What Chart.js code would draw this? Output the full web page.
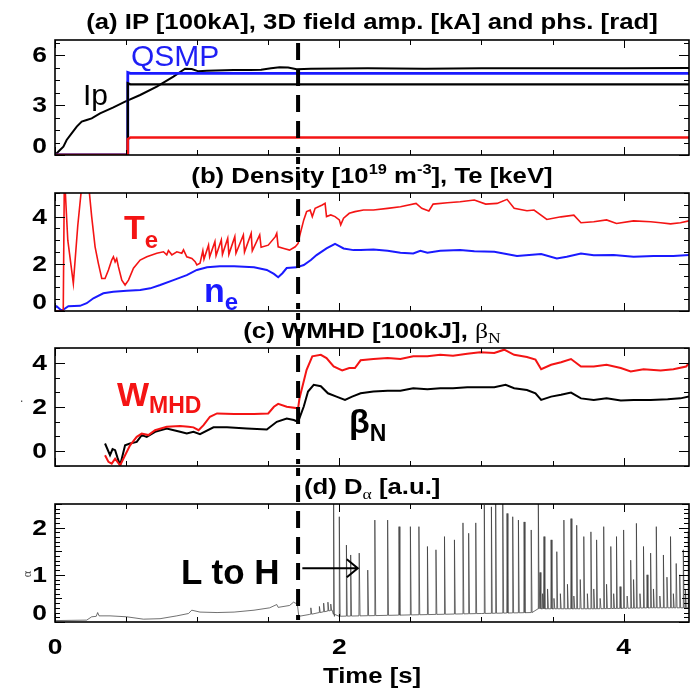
<!DOCTYPE html>
<html lang="en">
<head>
<meta charset="UTF-8">
<title>Discharge overview</title>
<script src="https://cdn.jsdelivr.net/npm/chart.js"></script>
<style>
  body { margin: 0; background: #fff; }
  #page { position: relative; width: 691px; height: 690px; overflow: hidden;
          font-family: "Liberation Sans", Arial, sans-serif; }
  canvas { position: absolute; left: 0; }
  .title { position: absolute; left: 55px; width: 634px; text-align: center; white-space: nowrap;
           font-weight: bold; font-size: 22px; line-height: 1; transform: scaleX(1.17); transform-origin: 317px 0; }
  .ann { position: absolute; white-space: nowrap; line-height: 1; }
  .sup { font-size: 14px; position: relative; top: -9px; }
  .serif { font-family: "Liberation Serif", "DejaVu Serif", serif; font-weight: normal; }
</style>
</head>
<body>
<div id="page">
  <canvas id="cA" width="691" height="157" style="top:0"></canvas>
  <canvas id="cB" width="691" height="156" style="top:157px"></canvas>
  <canvas id="cC" width="691" height="155" style="top:313px"></canvas>
  <canvas id="cD" width="691" height="222" style="top:468px"></canvas>

  <div class="title" style="top:11px">(a) IP [100kA], 3D field amp. [kA] and phs. [rad]</div>
  <div class="title" style="top:165px">(b) Density [10<span class="sup">19</span> m<span class="sup">-3</span>], Te [keV]</div>
  <div class="title" style="top:320px">(c) WMHD [100kJ], <span class="serif">β<span style="font-size:15px;position:relative;top:5px">N</span></span></div>
  <div class="title" style="top:476px;left:304px;width:auto;text-align:left;transform-origin:0 0">(d) D<span class="serif" style="font-size:15px;position:relative;top:5px">α</span> [a.u.]</div>

  <div class="ann" style="left:131px;top:41px;font-size:30px;color:#1f1ff5">QSMP</div>
  <div class="ann" style="left:83px;top:80px;font-size:30px;color:#000">Ip</div>
  <div class="ann" style="left:124px;top:210px;font-size:34px;font-weight:bold;color:#f41414">T<span style="font-size:24px;position:relative;top:9px">e</span></div>
  <div class="ann" style="left:204px;top:273px;font-size:34px;font-weight:bold;color:#1a1aff">n<span style="font-size:24px;position:relative;top:8px">e</span></div>
  <div class="ann" style="left:117px;top:377px;font-size:34px;font-weight:bold;color:#f41414">W<span style="font-size:23px;position:relative;top:7px">MHD</span></div>
  <div class="ann" style="left:349px;top:404px;font-size:34px;font-weight:bold;color:#000">β<span style="font-size:23px;position:relative;top:8px">N</span></div>
  <div class="ann" style="left:181px;top:554px;font-size:35px;font-weight:bold;color:#000">L to H</div>
  <div class="ann serif" style="left:24px;top:568px;font-size:12px;color:#444;transform:rotate(-90deg)">α</div>
  <div class="ann" style="left:20px;top:392px;font-size:12px;color:#444">.</div>
</div>

<script>
// time axis and L-H transition
const tMax = 4.46;
const lhTime = 1.71;
const lhArrowT = [1.74, 2.13];
const lhArrowY = 1.14;

// (a) plasma current and 3D field coil signals
const ipTime = [0, 0.035, 0.059, 0.082, 0.117, 0.153, 0.188, 0.223, 0.258, 0.317, 0.411, 0.493, 0.599, 0.716, 0.833, 0.915, 0.962, 1.009, 1.068, 1.256, 1.373, 1.45, 1.52, 1.58, 1.64, 1.7, 1.8, 2.2, 2.6, 3.0, 3.5, 4.0, 4.46];
const ipVal  = [0, 0.3, 0.5, 0.9, 1.3, 1.7, 2.0, 2.1, 2.2, 2.5, 2.86, 3.2, 3.6, 4.1, 4.7, 5.18, 5.16, 5.02, 5.06, 5.1, 5.1, 5.12, 5.2, 5.27, 5.25, 5.15, 5.18, 5.2, 5.18, 5.2, 5.2, 5.2, 5.22];
const coilTime = [0, 0.508, 0.512, 0.53, 4.46];
const qsmpVal  = [0, 0, 4.95, 4.9, 4.9];
const ampVal   = [0, 0, 4.3, 4.24, 4.24];
const phsVal   = [0, 0, 0.95, 1.05, 1.05];

// (b) electron temperature and density
const teTime = [0, 0.058, 0.066, 0.09, 0.129, 0.16, 0.188, 0.215, 0.242, 0.258, 0.282, 0.305, 0.329, 0.352, 0.376, 0.399, 0.411, 0.423, 0.434, 0.446, 0.47, 0.493, 0.517, 0.552, 0.599, 0.646, 0.716, 0.763, 0.786, 0.798, 0.822, 0.857, 0.892, 0.904, 0.927, 0.963, 0.986, 0.998, 1.02, 1.04, 1.048, 1.08, 1.088, 1.125, 1.133, 1.17, 1.178, 1.215, 1.223, 1.265, 1.273, 1.325, 1.333, 1.38, 1.388, 1.44, 1.45, 1.5, 1.55, 1.56, 1.57, 1.61, 1.65, 1.69, 1.71, 1.72, 1.75, 1.77, 1.795, 1.81, 1.83, 1.88, 1.9, 1.91, 1.94, 1.97, 2.0, 2.01, 2.03, 2.07, 2.11, 2.17, 2.24, 2.34, 2.43, 2.54, 2.58, 2.63, 2.66, 2.76, 2.85, 2.95, 3.03, 3.11, 3.18, 3.23, 3.32, 3.37, 3.46, 3.56, 3.65, 3.7, 3.79, 3.88, 3.95, 4.07, 4.19, 4.26, 4.33, 4.4, 4.46];
const teVal  = [0, 0, 5.8, 3.0, 1.17, 3.6, 5.3, 6.0, 5.0, 4.0, 2.72, 2.02, 1.38, 1.38, 1.74, 2.16, 2.3, 2.08, 2.22, 1.88, 1.31, 1.1, 1.31, 1.81, 2.16, 2.3, 2.45, 2.51, 2.38, 2.56, 2.38, 2.51, 2.45, 2.59, 2.3, 2.23, 2.09, 1.95, 2.02, 2.55, 2.2, 2.79, 2.3, 2.94, 2.35, 3.01, 2.4, 3.08, 2.4, 3.15, 2.45, 3.22, 2.5, 3.29, 2.55, 3.22, 2.7, 2.79, 3.15, 3.29, 2.72, 2.65, 2.58, 2.72, 2.86, 3.15, 3.86, 4.21, 4.28, 4.0, 4.35, 4.49, 4.56, 4.0, 4.07, 4.0, 3.86, 3.65, 3.93, 4.14, 4.21, 4.28, 4.28, 4.35, 4.42, 4.56, 4.35, 4.24, 4.53, 4.59, 4.63, 4.7, 4.53, 4.56, 4.73, 4.35, 4.25, 4.28, 3.88, 3.99, 4.06, 3.74, 3.78, 3.86, 3.71, 3.82, 3.78, 3.74, 3.69, 3.74, 3.82];
const neTime = [0, 0.012, 0.047, 0.094, 0.176, 0.223, 0.27, 0.34, 0.41, 0.505, 0.6, 0.67, 0.74, 0.833, 0.927, 0.998, 1.07, 1.16, 1.26, 1.4, 1.49, 1.54, 1.57, 1.6, 1.63, 1.7, 1.75, 1.8, 1.84, 1.91, 1.97, 2.0, 2.03, 2.1, 2.15, 2.24, 2.34, 2.43, 2.52, 2.57, 2.62, 2.71, 2.85, 2.95, 3.09, 3.25, 3.42, 3.53, 3.6, 3.7, 3.79, 3.93, 4.07, 4.21, 4.35, 4.46];
const neVal  = [0.14, 0.2, 0.01, 0.2, 0.22, 0.33, 0.54, 0.75, 0.82, 0.86, 0.89, 0.96, 1.1, 1.31, 1.52, 1.74, 1.85, 1.9, 1.9, 1.85, 1.74, 1.57, 1.43, 1.6, 1.82, 1.85, 1.95, 2.16, 2.37, 2.65, 2.84, 2.75, 2.65, 2.58, 2.58, 2.61, 2.55, 2.47, 2.44, 2.55, 2.47, 2.55, 2.58, 2.53, 2.51, 2.33, 2.41, 2.23, 2.3, 2.44, 2.36, 2.37, 2.3, 2.33, 2.33, 2.37];

// (c) stored energy and normalised beta
const wTime = [0.352, 0.376, 0.399, 0.423, 0.458, 0.493, 0.528, 0.575, 0.61, 0.657, 0.704, 0.786, 0.88, 0.939, 0.974, 1.01, 1.045, 1.09, 1.14, 1.26, 1.4, 1.5, 1.54, 1.57, 1.63, 1.71, 1.72, 1.77, 1.81, 1.87, 1.91, 1.96, 2.02, 2.07, 2.11, 2.15, 2.24, 2.34, 2.43, 2.52, 2.62, 2.71, 2.8, 2.9, 2.99, 3.09, 3.16, 3.23, 3.32, 3.38, 3.42, 3.49, 3.56, 3.63, 3.7, 3.79, 3.88, 3.98, 4.05, 4.14, 4.26, 4.35, 4.44, 4.46];
const wVal  = [-0.18, -0.48, -0.56, -0.34, -0.64, -0.18, 0.27, 0.65, 0.8, 0.73, 0.95, 1.11, 1.14, 1.11, 1.08, 0.95, 1.18, 1.56, 1.71, 1.68, 1.68, 1.71, 2.01, 2.14, 2.01, 1.94, 2.4, 3.68, 4.29, 4.36, 4.21, 3.83, 3.65, 3.76, 3.76, 4.11, 4.17, 4.21, 4.17, 4.29, 4.29, 4.36, 4.32, 4.41, 4.47, 4.44, 4.59, 4.36, 4.26, 4.14, 3.71, 3.91, 4.02, 4.17, 3.83, 3.83, 3.91, 3.76, 3.61, 3.71, 3.65, 3.71, 3.83, 3.98];
const betaTime = [0.352, 0.387, 0.405, 0.423, 0.44, 0.458, 0.493, 0.528, 0.575, 0.61, 0.645, 0.704, 0.786, 0.88, 0.927, 0.974, 1.02, 1.115, 1.21, 1.35, 1.49, 1.56, 1.63, 1.68, 1.71, 1.75, 1.78, 1.82, 1.87, 1.92, 1.98, 2.04, 2.09, 2.15, 2.24, 2.34, 2.43, 2.52, 2.62, 2.71, 2.8, 2.9, 2.99, 3.09, 3.17, 3.23, 3.32, 3.38, 3.42, 3.49, 3.56, 3.63, 3.7, 3.79, 3.88, 3.98, 4.07, 4.19, 4.31, 4.4, 4.46];
const betaVal  = [0.35, -0.18, 0.1, 0.05, -0.3, -0.64, 0.27, 0.35, 0.42, 0.73, 0.65, 0.88, 1.03, 0.88, 0.8, 0.88, 0.77, 1.08, 1.08, 1.03, 0.98, 1.33, 1.48, 1.41, 1.33, 2.02, 2.7, 3.0, 2.94, 2.62, 2.47, 2.32, 2.47, 2.62, 2.7, 2.74, 2.74, 2.85, 2.8, 2.85, 2.85, 2.89, 2.89, 2.89, 3.0, 2.85, 2.77, 2.62, 2.32, 2.47, 2.55, 2.65, 2.39, 2.32, 2.39, 2.29, 2.32, 2.32, 2.35, 2.39, 2.47];

// (d) D-alpha: slowly varying level plus ELM bursts
const daBaseTime = [0, 0.223, 0.258, 0.29, 0.3, 0.31, 0.387, 0.505, 0.622, 0.739, 0.857, 0.939, 0.962, 1.02, 1.14, 1.26, 1.4, 1.51, 1.56, 1.57, 1.65, 1.678, 1.705, 1.715, 1.79, 1.86, 1.95, 1.965, 2.5, 3.0, 3.35, 3.4, 3.8, 4.2, 4.46];
const daBaseVal  = [0.03, 0.04, 0.11, 0.12, 0.2, 0.13, 0.13, 0.11, 0.06, 0.07, 0.13, 0.18, 0.25, 0.21, 0.2, 0.21, 0.25, 0.3, 0.37, 0.31, 0.35, 0.42, 0.38, 0.12, 0.16, 0.2, 0.25, 0.12, 0.15, 0.18, 0.2, 0.28, 0.28, 0.3, 0.3];
const elmTime = [1.8, 1.86, 1.89, 1.92, 1.94, 1.96, 2.0, 2.05, 2.08, 2.14, 2.2, 2.25, 2.34, 2.42, 2.5, 2.56, 2.62, 2.68, 2.74, 2.81, 2.87, 2.91, 2.96, 3.02, 3.07, 3.1, 3.15, 3.18, 3.22, 3.26, 3.3, 3.35, 3.4, 3.412, 3.43, 3.44, 3.465, 3.49, 3.51, 3.53, 3.555, 3.58, 3.605, 3.63, 3.65, 3.67, 3.695, 3.72, 3.745, 3.77, 3.79, 3.81, 3.835, 3.86, 3.88, 3.91, 3.93, 3.95, 3.975, 4.0, 4.025, 4.05, 4.07, 4.09, 4.115, 4.14, 4.165, 4.19, 4.21, 4.23, 4.255, 4.28, 4.305, 4.33, 4.35, 4.37, 4.395, 4.42, 4.435, 4.455];
const elmPeak = [0.3, 0.33, 0.4, 0.42, 0.38, 2.6, 2.23, 1.63, 1.42, 1.46, 1.1, 2.16, 2.16, 2.02, 2.02, 2.02, 1.6, 1.53, 1.81, 1.74, 2.1, 1.88, 2.1, 2.48, 2.44, 2.6, 2.6, 2.3, 2.23, 2.16, 2.12, 1.95, 2.6, 1.05, 0.6, 1.81, 0.7, 1.74, 0.5, 1.49, 0.6, 2.16, 0.8, 2.19, 0.55, 2.05, 0.9, 1.81, 0.6, 1.91, 0.7, 1.74, 0.5, 2.02, 0.8, 1.6, 0.6, 1.81, 0.75, 1.95, 0.55, 1.31, 0.9, 2.09, 0.6, 1.6, 1.0, 1.46, 0.7, 2.02, 0.55, 1.42, 0.95, 1.81, 0.6, 1.24, 1.0, 1.53, 0.7, 1.92];

// tick labels
const yLabelsA = [0, 3, 6];
const yLabelsB = [0, 2, 4];
const yLabelsC = [0, 2, 4];
const yLabelsD = [0, 1, 2];
const xLabels = [0, 2, 4];

const pts = (ts, vs) => ts.map((t, i) => ({ x: t, y: vs[i] }));

// level of the D-alpha trace at time t
function daLevel(t) {
  let i = 0;
  while (i < daBaseTime.length - 2 && daBaseTime[i + 1] <= t) i++;
  const t0 = daBaseTime[i], t1 = daBaseTime[i + 1];
  const f = Math.min(1, Math.max(0, (t - t0) / (t1 - t0)));
  return daBaseVal[i] + f * (daBaseVal[i + 1] - daBaseVal[i]);
}

function daPoints() {
  const out = pts(daBaseTime, daBaseVal);
  elmTime.forEach((t, i) => {
    const b = daLevel(t);
    out.push({ x: t - 0.002, y: b }, { x: t, y: elmPeak[i] }, { x: t + 0.006, y: b });
  });
  return out.sort((p, q) => p.x - q.x);
}

const FONT = '"Liberation Sans", Arial, sans-serif';

// frame, inward ticks, tick labels and the dashed L-H marker
const panelFrame = {
  id: 'panelFrame',
  afterDatasetsDraw(chart, args, o) {
    const ctx = chart.ctx, a = chart.chartArea;
    const xs = chart.scales.x, ys = chart.scales.y;
    ctx.save();
    ctx.strokeStyle = '#000';
    ctx.lineWidth = 1;
    ctx.beginPath();
    for (let k = 0; k * 0.5 <= xs.max + 1e-9; k++) {
      const v = k * 0.5;
      const px = Math.round(xs.getPixelForValue(v)) + 0.5;
      const len = (k % 4 === 0) ? 8 : 5;
      ctx.moveTo(px, a.top); ctx.lineTo(px, a.top + len);
      ctx.moveTo(px, a.bottom); ctx.lineTo(px, a.bottom - len);
    }
    const k0 = Math.ceil(ys.min / o.minor - 1e-6), k1 = Math.floor(ys.max / o.minor + 1e-6);
    for (let k = k0; k <= k1; k++) {
      const v = k * o.minor;
      const py = Math.round(ys.getPixelForValue(v)) + 0.5;
      const isMajor = Math.abs(v / o.major - Math.round(v / o.major)) < 1e-6;
      const isMid = o.mid && Math.abs(v / o.mid - Math.round(v / o.mid)) < 1e-6;
      const len = isMajor ? 10 : (isMid ? 7 : 5);
      ctx.moveTo(a.left, py); ctx.lineTo(a.left + len, py);
      ctx.moveTo(a.right, py); ctx.lineTo(a.right - len, py);
    }
    ctx.stroke();
    ctx.lineWidth = 1.6;
    ctx.strokeRect(a.left, a.top, a.right - a.left, a.bottom - a.top);

    ctx.fillStyle = '#000';
    ctx.font = 'bold 22px ' + FONT;
    ctx.textAlign = 'right';
    ctx.textBaseline = 'middle';
    o.yLabels.forEach(v => {
      let py = ys.getPixelForValue(v);
      if (v === ys.min) py -= 9;
      ctx.save(); ctx.translate(a.left - 8, py + 1); ctx.scale(1.2, 1);
      ctx.fillText(String(v), 0, 0); ctx.restore();
    });
    if (o.xLabels) {
      ctx.textAlign = 'center';
      o.xLabels.forEach(v => {
        ctx.save(); ctx.translate(xs.getPixelForValue(v), a.bottom + 26); ctx.scale(1.2, 1);
        ctx.fillText(String(v), 0, 0); ctx.restore();
      });
      ctx.textBaseline = 'alphabetic';
      ctx.save(); ctx.translate((a.left + a.right) / 2, a.bottom + 61); ctx.scale(1.17, 1);
      ctx.fillText(o.xTitle, 0, 0); ctx.restore();
    }

    // L-H transition marker, dash phase kept continuous across panels
    const dx = xs.getPixelForValue(lhTime);
    ctx.setLineDash([17, 9]);
    ctx.lineDashOffset = Math.max(0, o.canvasTop - 43);
    ctx.lineWidth = 4;
    ctx.beginPath();
    ctx.moveTo(dx, Math.max(0, 43 - o.canvasTop));
    ctx.lineTo(dx, a.bottom - 2);
    ctx.stroke();
    ctx.setLineDash([]);

    if (o.arrow) {
      const x0 = xs.getPixelForValue(lhArrowT[0]), x1 = xs.getPixelForValue(lhArrowT[1]);
      const ay = ys.getPixelForValue(lhArrowY);
      ctx.lineWidth = 2;
      ctx.beginPath();
      ctx.moveTo(x0, ay); ctx.lineTo(x1, ay);
      ctx.moveTo(x1 - 11, ay - 9); ctx.lineTo(x1, ay); ctx.lineTo(x1 - 11, ay + 9);
      ctx.stroke();
    }
    ctx.restore();
  }
};

function line(data, color, width) {
  return { data, borderColor: color, borderWidth: width, pointRadius: 0, tension: 0, fill: false };
}

function panel(id, datasets, yMin, yMax, pad, frameOpts) {
  return new Chart(document.getElementById(id), {
    type: 'line',
    data: { datasets },
    options: {
      responsive: false,
      animation: false,
      events: [],
      parsing: true,
      layout: { padding: pad },
      scales: {
        x: { type: 'linear', min: 0, max: tMax, display: false },
        y: { type: 'linear', min: yMin, max: yMax, display: false }
      },
      plugins: { legend: { display: false }, tooltip: { enabled: false }, panelFrame: frameOpts }
    },
    plugins: [panelFrame]
  });
}

const RED = '#f41414', BLUE = '#1a1aff';

panel('cA', [
  line(pts(coilTime, phsVal), RED, 2.6),
  line(pts(coilTime, ampVal), '#000', 2.4),
  line(pts(coilTime, qsmpVal), BLUE, 2.8),
  line(pts(ipTime, ipVal), '#000', 2)
], 0, 6.9, { left: 55, right: 2, top: 40, bottom: 2 },
  { canvasTop: 0, minor: 0.75, major: 3, yLabels: yLabelsA });

panel('cB', [
  line(pts(teTime, teVal), RED, 1.6),
  line(pts(neTime, neVal), BLUE, 2)
], 0, 5, { left: 55, right: 2, top: 36, bottom: 2 },
  { canvasTop: 157, minor: 0.5, major: 2, yLabels: yLabelsB });

panel('cC', [
  line(pts(wTime, wVal), RED, 2),
  line(pts(betaTime, betaVal), '#000', 2)
], -0.667, 4.667, { left: 55, right: 2, top: 35, bottom: 2 },
  { canvasTop: 313, minor: 2 / 3, major: 2, yLabels: yLabelsC });

panel('cD', [
  line(daPoints(), '#333', 0.7)
], 0, 2.5, { left: 55, right: 2, top: 36, bottom: 68 },
  { canvasTop: 468, minor: 0.1, mid: 0.5, major: 1, yLabels: yLabelsD,
    xLabels: xLabels, xTitle: 'Time [s]', arrow: true });
</script>
</body>
</html>
